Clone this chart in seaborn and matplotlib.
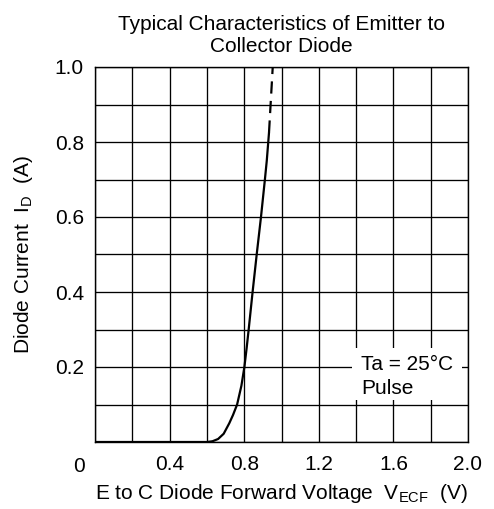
import numpy as np
import matplotlib
matplotlib.use("Agg")
import matplotlib.pyplot as plt
import matplotlib.transforms as mtransforms
from matplotlib.ticker import MultipleLocator
import seaborn as sns

# forward voltage (V) vs diode current (A)
v_solid = [0.0, 0.60, 0.63, 0.66, 0.69, 0.72, 0.74, 0.762, 0.785, 0.801,
           0.813, 0.824, 0.845, 0.867, 0.890, 0.911, 0.921, 0.929, 0.933]
i_solid = [0.0, 0.0, 0.002, 0.008, 0.022, 0.05, 0.072, 0.10, 0.15, 0.20,
           0.25, 0.30, 0.40, 0.50, 0.60, 0.70, 0.75, 0.80, 0.825]
# extrapolated part (dashed)
v_dash = [0.933, 0.953]
i_dash = [0.825, 1.0]

x_ticks = [0.4, 0.8, 1.2, 1.6, 2.0]
x_labels = ["0.4", "0.8", "1.2", "1.6", "2.0"]
y_ticks = [0.2, 0.4, 0.6, 0.8, 1.0]
y_labels = ["0.2", "0.4", "0.6", "0.8", "1.0"]

title = "Typical Characteristics of Emitter to\nCollector Diode"
xlab = r"E to C Diode Forward Voltage  $\mathregular{V_{ECF}}$  (V)"
ylab = r"Diode Current  $\mathregular{I_D}$  (A)"
cond = ["Ta = 25°C", "Pulse"]

sns.set_theme(style="white")
plt.rcParams["font.family"] = ["Liberation Sans", "DejaVu Sans"]
plt.rcParams["mathtext.fontset"] = "custom"
plt.rcParams["mathtext.rm"] = "Liberation Sans"
plt.rcParams["text.color"] = "black"
plt.rcParams["axes.labelcolor"] = "black"

FS = 15
fig = plt.figure(figsize=(4.94, 5.09), dpi=100, facecolor="white")
ax = fig.add_axes([95 / 494, 1 - 442 / 509, 373 / 494, 375 / 509])

sns.lineplot(x=v_solid, y=i_solid, ax=ax, color="black", lw=1.6, zorder=3)
sns.lineplot(x=v_dash, y=i_dash, ax=ax, color="black", lw=1.6, zorder=3,
             linestyle=(0, (5.5, 3.3)))

ax.set_xlim(0, 2.0)
ax.set_ylim(0, 1.0)
ax.set_xticks(x_ticks)
ax.set_xticklabels(x_labels)
ax.set_yticks(y_ticks)
ax.set_yticklabels(y_labels)
ax.xaxis.set_minor_locator(MultipleLocator(0.2))
ax.yaxis.set_minor_locator(MultipleLocator(0.1))
ax.set_axisbelow(True)
ax.grid(which="both", color="black", lw=0.95)
ax.tick_params(which="both", length=0, labelsize=FS, colors="black")
ax.tick_params(axis="x", pad=9)
ax.tick_params(axis="y", pad=8)
for s in ax.spines.values():
    s.set_color("black")
    s.set_linewidth(1.0)

# origin label shared by both axes
trans = mtransforms.blended_transform_factory(ax.transData, ax.transAxes)
ax.text(-0.086, -0.065, "0", transform=trans, ha="center", va="center",
        fontsize=FS, color="black")

# condition box
ax.add_patch(plt.Rectangle((1.378, 0.112), 0.59, 0.139, facecolor="white",
                           edgecolor="none", zorder=1))
ax.text(1.426, 0.192, cond[0], fontsize=FS, va="baseline", color="black", zorder=4)
ax.text(1.426, 0.128, cond[1], fontsize=FS, va="baseline", color="black", zorder=4)

ax.set_title(title, fontsize=FS, pad=11, linespacing=1.15, color="black")
ax.set_xlabel(xlab, fontsize=FS, labelpad=6, color="black")
ax.set_ylabel(ylab, fontsize=FS, labelpad=14, color="black")

fig.savefig("out.png", dpi=100)
